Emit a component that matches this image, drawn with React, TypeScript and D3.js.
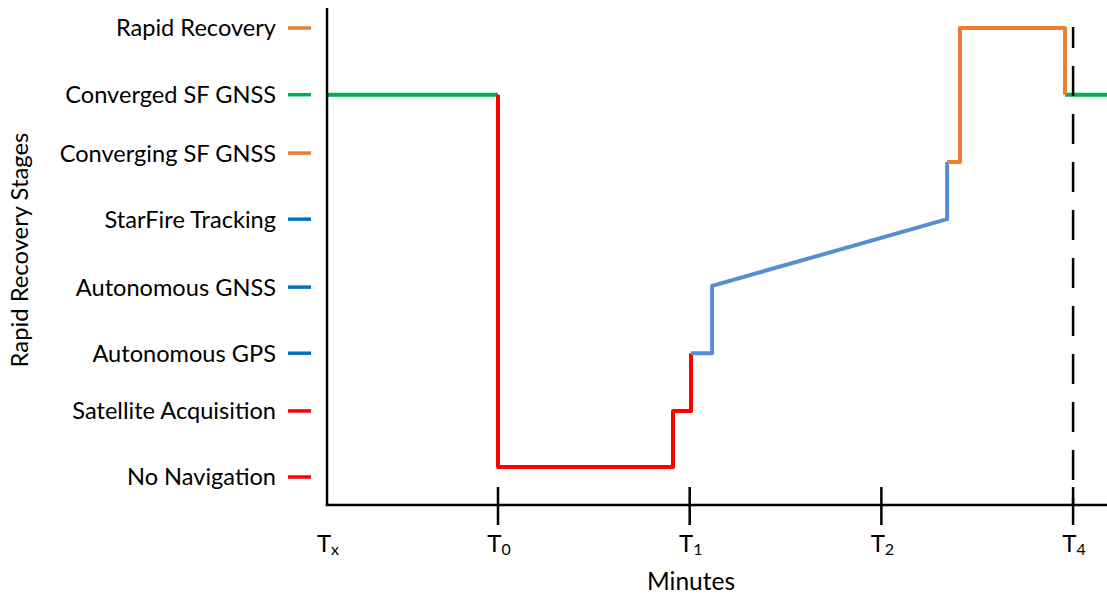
import React from "react";
import * as d3 from "d3";

// Stage labels (top to bottom) and their level values
const stageLabels = [
  "Rapid Recovery",
  "Converged SF GNSS",
  "Converging SF GNSS",
  "StarFire Tracking",
  "Autonomous GNSS",
  "Autonomous GPS",
  "Satellite Acquisition",
  "No Navigation",
];
const stageLevels = [7, 5.96, 5.05, 4.02, 2.96, 1.93, 1.03, 0];
const stageColors = ["#ED7D31", "#00B050", "#ED7D31", "#0070C0", "#0070C0", "#0070C0", "#FF0000", "#FF0000"];

// X ticks (minutes, in T units)
const tickValues = [0, 1, 2, 3];
const tickSubs = ["0", "1", "2", "4"];
const originLabelSub = "x";
const xMin = -0.892;
const xMax = 3.177;
const t4Value = 3;

// Series segments: [x, level]
const greenStart: [number, number][] = [[xMin, 5.96], [0, 5.96]];
const redSeg: [number, number][] = [
  [0, 5.96], [0, 0.156], [0.913, 0.156], [0.913, 1.03], [1.007, 1.03], [1.007, 1.93],
];
const blueSeg: [number, number][] = [
  [1.007, 1.93], [1.117, 1.93], [1.117, 2.98], [2.343, 4.02], [2.343, 4.91],
];
const orangeSeg: [number, number][] = [
  [2.343, 4.91], [2.41, 4.91], [2.41, 7], [2.958, 7], [2.958, 5.96],
];
const greenEnd: [number, number][] = [[2.958, 5.96], [xMax, 5.96]];

const seriesList = [
  { pts: greenStart, color: "#00B050" },
  { pts: greenEnd, color: "#00B050" },
  { pts: redSeg, color: "#FF0000" },
  { pts: blueSeg, color: "#558ED5" },
  { pts: orangeSeg, color: "#ED7D31" },
];

export default function App() {
  const W = 1107, H = 594;
  const left = 327, right = 1107, axisY = 505, top = 8;
  const x = d3.scaleLinear().domain([xMin, xMax]).range([left, right]);
  const y = d3.scaleLinear().domain([0, 7]).range([477, 28]);
  const line = d3.line<[number, number]>().x(d => x(d[0])).y(d => y(d[1]));
  const font = "Lato, 'Open Sans', sans-serif";

  return (
    <svg width={W} height={H} style={{ position: "absolute", left: 0, top: 0, background: "#fff" }} fontFamily={font}>
      {/* y labels */}
      {stageLabels.map((s, i) => (
        <g key={s}>
          <text x={276} y={y(stageLevels[i])} dy="0.36em" textAnchor="end" fontSize={23.6} fill="#000">{s}</text>
          <line x1={288} x2={311} y1={y(stageLevels[i])} y2={y(stageLevels[i])} stroke={stageColors[i]} strokeWidth={3.5} />
        </g>
      ))}
      {/* series */}
      {seriesList.map((s, i) => (
        <path key={i} d={line(s.pts) || ""} fill="none" stroke={s.color} strokeWidth={4} strokeLinejoin="round" />
      ))}
      {/* dashed T4 line */}
      <line x1={x(t4Value)} x2={x(t4Value)} y1={27} y2={axisY} stroke="#000" strokeWidth={2.5} strokeDasharray="30 18" strokeDashoffset={9} />
      {/* axes */}
      <line x1={left} x2={left} y1={top} y2={axisY} stroke="#000" strokeWidth={2.5} />
      <line x1={left - 1.25} x2={right} y1={axisY} y2={axisY} stroke="#000" strokeWidth={2.5} />
      {tickValues.map(t => (
        <line key={t} x1={x(t)} x2={x(t)} y1={487} y2={525} stroke="#000" strokeWidth={2.5} />
      ))}
      {/* x tick labels */}
      <text x={left + 1} y={552} textAnchor="middle" fontSize={24} fill="#000">T<tspan fontSize={16} dy={3}>{originLabelSub}</tspan></text>
      {tickValues.map((t, i) => (
        <text key={t} x={x(t) + 1} y={552} textAnchor="middle" fontSize={24} fill="#000">T<tspan fontSize={16} dy={3}>{tickSubs[i]}</tspan></text>
      ))}
      <text x={691} y={590} textAnchor="middle" fontSize={24.5} fill="#000">Minutes</text>
      <text transform="translate(28,250) rotate(-90)" textAnchor="middle" fontSize={23.8} fill="#000">Rapid Recovery Stages</text>
    </svg>
  );
}
